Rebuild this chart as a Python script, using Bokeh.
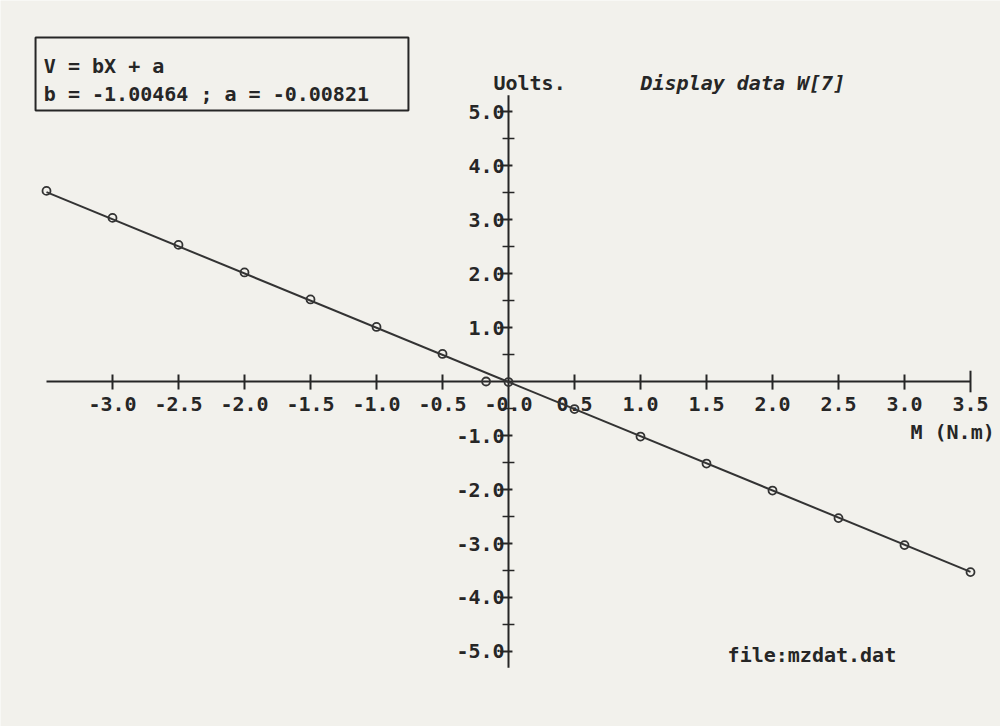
from bokeh.plotting import figure
from bokeh.models import Range1d, ColumnDataSource
from bokeh.core.properties import value
from bokeh.embed import file_html
from bokeh.resources import INLINE

# Measured torque (N.m) against transducer output (Volts)
m_values = [-3.5, -3.0, -2.5, -2.0, -1.5, -1.0, -0.5, -0.17, 0.0,
            0.5, 1.0, 1.5, 2.0, 2.5, 3.0, 3.5]
volts = [3.53, 3.03, 2.53, 2.02, 1.52, 1.01, 0.51, 0.00, -0.01,
         -0.51, -1.02, -1.52, -2.02, -2.53, -3.03, -3.53]

# Least-squares fit  V = bX + a
fit_b = -1.00464
fit_a = -0.00821

x_tick_vals = [-3.0, -2.5, -2.0, -1.5, -1.0, -0.5, 0.0, 0.5, 1.0, 1.5, 2.0, 2.5, 3.0, 3.5]
x_tick_labels = ["-3.0", "-2.5", "-2.0", "-1.5", "-1.0", "-0.5", "-0.0",
                 "0.5", "1.0", "1.5", "2.0", "2.5", "3.0", "3.5"]
y_tick_vals = [5.0, 4.0, 3.0, 2.0, 1.0, -1.0, -2.0, -3.0, -4.0, -5.0]
y_tick_labels = ["5.0", "4.0", "3.0", "2.0", "1.0", "-1.0", "-2.0", "-3.0", "-4.0", "-5.0"]
y_minor_vals = [4.5, 3.5, 2.5, 1.5, 0.5, -0.5, -1.5, -2.5, -3.5, -4.5]

INK = "#262626"
PAPER = "#f2f1ec"
FONT = value("DejaVu Sans Mono")
FS = "20px"

p = figure(width=1000, height=726, output_backend="svg", toolbar_location=None,
           x_range=Range1d(-3.8485, 3.7273), y_range=Range1d(-6.389, 7.056),
           background_fill_color=PAPER, border_fill_color=PAPER,
           min_border=0, min_border_left=0, min_border_right=0,
           min_border_top=0, min_border_bottom=0, outline_line_color=None)
p.xaxis.visible = False
p.yaxis.visible = False
p.xgrid.visible = False
p.ygrid.visible = False

# Axes crossing at the origin
p.segment(x0=[-3.5], y0=[0], x1=[3.5], y1=[0], line_color=INK, line_width=2)
p.segment(x0=[0], y0=[-5.3], x1=[0], y1=[5.3], line_color=INK, line_width=2)

# X ticks and labels
xt = [v for v in x_tick_vals if v != 0.0 and v != 3.5]
p.segment(x0=xt, y0=[-0.15] * len(xt), x1=xt, y1=[0.13] * len(xt),
          line_color=INK, line_width=2)
p.segment(x0=[3.5], y0=[-0.2], x1=[3.5], y1=[0.2], line_color=INK, line_width=2)
p.text(x=x_tick_vals, y=[-0.41] * len(x_tick_vals), text=x_tick_labels,
       text_font=FONT, text_font_style="bold", text_font_size=FS,
       text_color=INK, text_align="center", text_baseline="middle")

# Y ticks and labels
p.segment(x0=[-0.065] * len(y_tick_vals), y0=y_tick_vals,
          x1=[0.03] * len(y_tick_vals), y1=y_tick_vals, line_color=INK, line_width=2)
p.segment(x0=[-0.045] * len(y_minor_vals), y0=y_minor_vals,
          x1=[0.045] * len(y_minor_vals), y1=y_minor_vals, line_color=INK, line_width=1.5)
p.text(x=[-0.03] * len(y_tick_vals), y=y_tick_vals, text=y_tick_labels,
       text_font=FONT, text_font_style="bold", text_font_size=FS,
       text_color=INK, text_align="right", text_baseline="middle")

# Fitted line across the measured range
x_ends = [m_values[0], m_values[-1]]
p.line(x=x_ends, y=[fit_b * x + fit_a for x in x_ends], line_color="#333333", line_width=2)

# Measured points
src = ColumnDataSource(dict(m=m_values, v=volts))
p.scatter(x="m", y="v", source=src, marker="circle", size=8,
          fill_color=None, line_color="#333333", line_width=1.8)

# Axis titles and captions
p.text(x=[-0.114], y=[5.52], text=["Uolts."], text_font=FONT, text_font_style="bold",
       text_font_size=FS, text_color=INK, text_baseline="middle")
p.text(x=[1.0], y=[5.52], text=["Display data W[7]"], text_font=FONT,
       text_font_style="bold italic", text_font_size=FS, text_color=INK,
       text_baseline="middle")
p.text(x=[3.045], y=[-0.93], text=["M (N.m)"], text_font=FONT, text_font_style="bold",
       text_font_size=FS, text_color=INK, text_baseline="middle")
p.text(x=[1.66], y=[-5.07], text=["file:mzdat.dat"], text_font=FONT,
       text_font_style="bold", text_font_size=FS, text_color=INK, text_baseline="middle")

# Regression box
p.quad(left=[-3.583], right=[-0.758], top=[6.37], bottom=[5.02],
       fill_color=None, line_color=INK, line_width=2)
p.text(x=[-3.52, -3.52], y=[5.85, 5.33],
       text=["V = bX + a", f"b = {fit_b:.5f} ; a = {fit_a:.5f}"],
       text_font=FONT, text_font_style="bold", text_font_size=FS,
       text_color=INK, text_baseline="middle")

open("out.html", "w").write(file_html(p, INLINE))
